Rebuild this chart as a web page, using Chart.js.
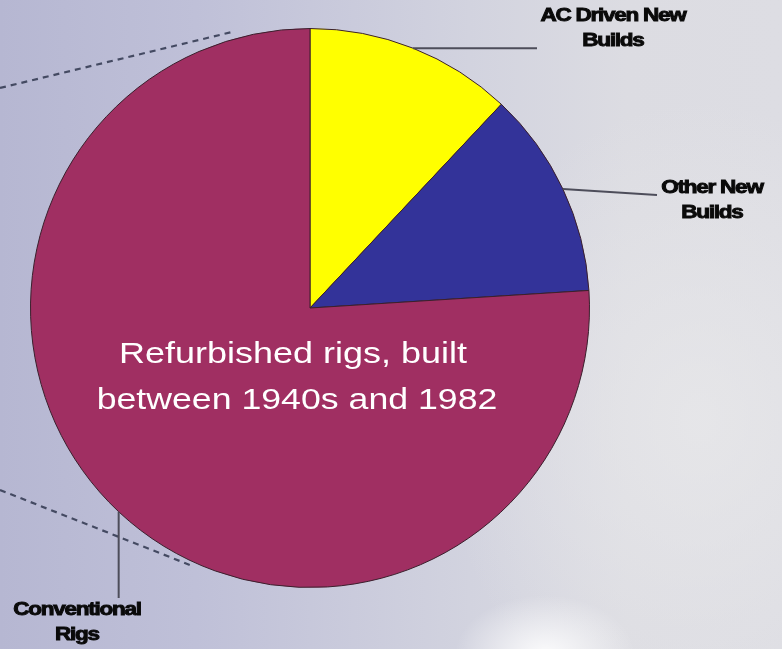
<!DOCTYPE html>
<html>
<head>
<meta charset="utf-8">
<script src="https://cdn.jsdelivr.net/npm/chart.js@4/dist/chart.umd.min.js"></script>
<style>
  html, body { margin: 0; padding: 0; }
  body {
    width: 782px; height: 649px; overflow: hidden;
    background:
      radial-gradient(ellipse 90px 60px at 545px 655px, rgba(255,255,255,0.9), rgba(255,255,255,0) 100%),
      radial-gradient(ellipse 260px 320px at 700px 420px, rgba(232,232,234,0.8), rgba(232,232,234,0) 100%),
      linear-gradient(to right, #b6b7d2 0%, #bfc0d8 25%, #d2d3df 60%, #dcdce2 80%, #dddde3 100%);
  }
  #wrap { position: relative; width: 782px; height: 649px; }
</style>
</head>
<body>
<div id="wrap"><canvas id="myChart" width="782" height="649"></canvas></div>
<script>
// datos (porcentaje aproximado de cada sector)
const categorias = ['AC Driven New Builds', 'Other New Builds', 'Conventional Rigs'];
const valores = [12, 12, 76];
const colores = ['#ffff00', '#333399', '#a02f62'];
const textoCentral = ['Refurbished rigs, built', 'between 1940s and 1982'];

// posicion de cada etiqueta: linea desde el borde del sector hasta fin, texto centrado en tx, primera linea en ty
const etiquetas = [
    { lineas: ['AC Driven New', 'Builds'], fin: [537, 48], tx: 613, ty: 16, horizontal: true },
    { lineas: ['Other New', 'Builds'], fin: [657, 195], tx: 712, ty: 188, horizontal: false },
    { lineas: ['Conventional', 'Rigs'], fin: [117, 598], tx: 77, ty: 610, vertical: true }
];

function textoEstirado(ctx, t, x, y, sx, trazo) {
    ctx.save();
    ctx.translate(x, y);
    ctx.scale(sx, 1);
    ctx.fillText(t, 0, 0);
    if (trazo) ctx.strokeText(t, 0, 0);
    ctx.restore();
}

const pluginEtiquetas = {
    id: 'etiquetas',
    beforeDraw(chart) {
        const ctx = chart.ctx;
        // lineas punteadas de la izquierda
        ctx.save();
        ctx.strokeStyle = '#444a62';
        ctx.lineWidth = 2.2;
        ctx.setLineDash([6, 5]);
        ctx.beginPath();
        ctx.moveTo(0, 88);
        ctx.lineTo(232, 32);
        ctx.moveTo(0, 490);
        ctx.lineTo(190, 565);
        ctx.stroke();
        ctx.restore();
    },
    afterDraw(chart) {
        const ctx = chart.ctx;
        const arcs = chart.getDatasetMeta(0).data;
        ctx.save();
        arcs.forEach((arc, i) => {
            const e = etiquetas[i];
            const mid = (arc.startAngle + arc.endAngle) / 2;
            let x0 = arc.x + Math.cos(mid) * arc.outerRadius;
            let y0 = arc.y + Math.sin(mid) * arc.outerRadius;
            let x1 = e.fin[0], y1 = e.fin[1];
            if (e.horizontal) y1 = y0;
            if (e.vertical) x1 = x0;
            ctx.strokeStyle = '#4d4d5a';
            ctx.lineWidth = 2;
            ctx.beginPath();
            ctx.moveTo(x0, y0);
            ctx.lineTo(x1, y1);
            ctx.stroke();

            ctx.fillStyle = '#0a0a0a';
            ctx.strokeStyle = '#0a0a0a';
            ctx.lineWidth = 0.9;
            ctx.font = 'bold 18px "Liberation Sans", Arial, sans-serif';
            ctx.letterSpacing = '-1px';
            ctx.textAlign = 'center';
            ctx.textBaseline = 'middle';
            e.lineas.forEach((t, k) => textoEstirado(ctx, t, e.tx, e.ty + k * 25, 1.25, true));
        });

        // texto central blanco
        const c = arcs[0];
        ctx.letterSpacing = '0px';
        ctx.fillStyle = '#ffffff';
        ctx.font = '29px "Liberation Sans", Arial, sans-serif';
        ctx.textAlign = 'center';
        ctx.textBaseline = 'alphabetic';
        textoEstirado(ctx, textoCentral[0], c.x - 17, c.y + 55, 1.24, false);
        textoEstirado(ctx, textoCentral[1], c.x - 13, c.y + 101, 1.23, false);
        ctx.restore();
    }
};

new Chart(document.getElementById('myChart').getContext('2d'), {
    type: 'pie',
    data: {
        labels: categorias,
        datasets: [{
            data: valores,
            backgroundColor: colores,
            borderColor: '#3a1f2c',
            borderWidth: 1
        }]
    },
    options: {
        responsive: false,
        animation: false,
        layout: { padding: { left: 30, top: 27, right: 192, bottom: 60 } },
        plugins: {
            legend: { display: false },
            tooltip: { enabled: false }
        }
    },
    plugins: [pluginEtiquetas]
});
</script>
</body>
</html>
